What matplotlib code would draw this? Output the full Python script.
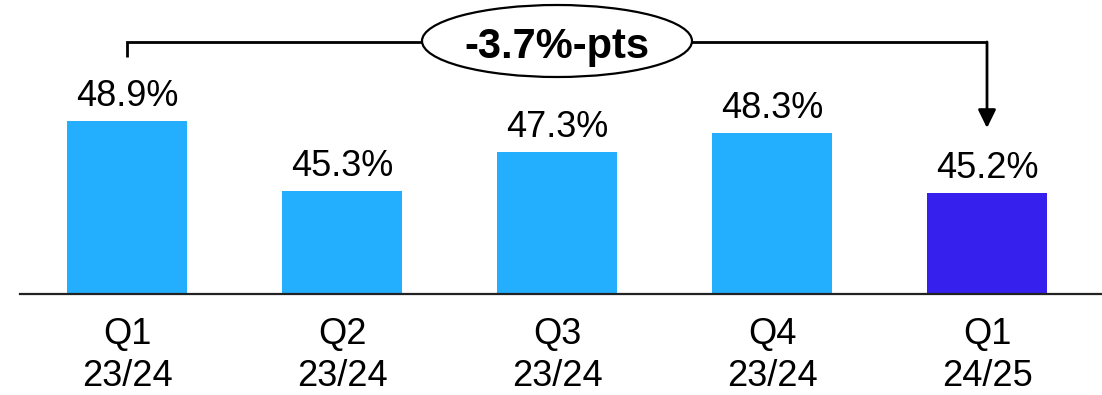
import matplotlib
matplotlib.use("Agg")
import matplotlib.pyplot as plt
from matplotlib.patches import Ellipse

quarters = ["Q1", "Q2", "Q3", "Q4", "Q1"]
years = ["23/24", "23/24", "23/24", "23/24", "24/25"]
values = [48.9, 45.3, 47.3, 48.3, 45.2]
value_labels = ["48.9%", "45.3%", "47.3%", "48.3%", "45.2%"]
change_label = "-3.7%-pts"

light = "#23AFFE"
dark = "#3520EE"
colors = [light, light, light, light, dark]

plt.rcParams["font.family"] = ["Liberation Sans", "DejaVu Sans"]

W, H = 1102, 395
base_px = 294  # pixel row of the baseline
fig = plt.figure(figsize=(W / 100, H / 100), dpi=100)
ax = fig.add_axes([20 / W, (H - base_px) / H, 1082 / W, base_px / H])

ymin = 40.0
px_per_unit = 19.4
ymax = ymin + base_px / px_per_unit
x = list(range(len(values)))
ax.bar(x, values, width=0.558, color=colors)
ax.set_ylim(ymin, ymax)
ax.set_xlim(-107 / 215, 4 + 115 / 215)

for s in ["top", "right", "left"]:
    ax.spines[s].set_visible(False)
ax.spines["bottom"].set_color("#222222")
ax.spines["bottom"].set_linewidth(1.6)
ax.set_yticks([])
ax.set_xticks(x)
ax.set_xticklabels([])
ax.tick_params(axis="x", length=0)

xt = ax.get_xaxis_transform()
for xi, q, yr in zip(x, quarters, years):
    ax.text(xi, -(344 - base_px) / base_px, q, transform=xt, ha="center",
            va="baseline", fontsize=26)
    ax.text(xi, -(386 - base_px) / base_px, yr, transform=xt, ha="center",
            va="baseline", fontsize=26)

for xi, v, lab in zip(x, values, value_labels):
    ax.annotate(lab, (xi, v), xytext=(0, 15 * 0.72), textcoords="offset points",
                ha="center", va="baseline", fontsize=26)

# Bracket from the first quarter to the latest one
def to_val(py):
    return ymin + (base_px - py) / px_per_unit

y_line = to_val(42)
y_left = to_val(57)
y_tip = to_val(128)
ax.plot([0, 0, 4], [y_left, y_line, y_line], color="black", lw=2.0,
        clip_on=False, solid_capstyle="butt", solid_joinstyle="miter")
ax.annotate("", xy=(4, y_tip), xytext=(4, y_line),
            arrowprops=dict(arrowstyle="-|>,head_length=0.55,head_width=0.27",
                            mutation_scale=20, lw=2.0, color="black",
                            shrinkA=0, shrinkB=0),
            annotation_clip=False)

cx = 557 / W
cy = 1 - 41 / H
ell = Ellipse((cx, cy), 270 / W, 72 / H, transform=fig.transFigure,
              facecolor="white", edgecolor="black", lw=1.6, zorder=5)
fig.patches.append(ell)
fig.text(cx, 1 - 58 / H, change_label, ha="center", va="baseline",
         fontsize=30, fontweight="bold", zorder=6)

fig.savefig("out.png", dpi=100)
